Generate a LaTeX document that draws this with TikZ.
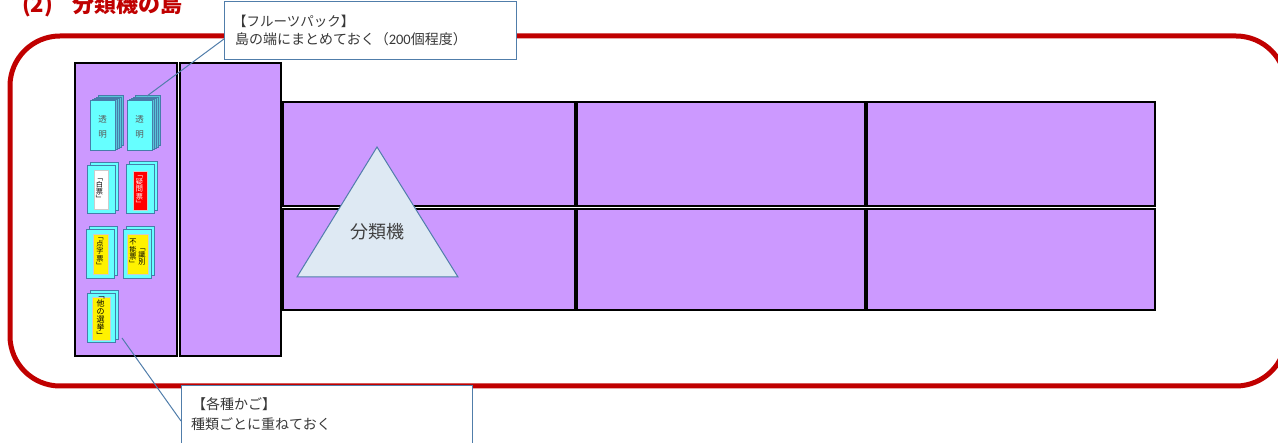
\documentclass[tikz,border=0pt]{standalone}
\usepackage{fontspec}
\setmainfont{Noto Sans CJK JP}
\newfontfamily\lat{Carlito}
\definecolor{cardedge}{RGB}{70,125,170}
\definecolor{cardfill}{RGB}{102,255,255}
\definecolor{calledge}{RGB}{80,125,170}
\definecolor{rd}{RGB}{192,0,0}
\definecolor{tri}{RGB}{222,233,243}
\definecolor{isl}{RGB}{204,153,255}
\tikzset{
 x=1pt,y=-1pt,
 island/.style={draw=black,line width=2pt,fill=isl},
 card/.style={draw=cardedge,line width=1pt,fill=cardfill},
 backcard/.style={draw=cardedge,line width=1pt,fill=cardfill!55!cardedge},
 lab/.style={inner sep=0pt,align=center,font=\fontsize{7.2}{7.2}\selectfont},
 clab/.style={inner sep=0pt,align=center,text=black!65,font=\fontsize{8.5}{9}\selectfont},
 callout/.style={draw=calledge,line width=1pt,fill=white,inner sep=0pt},
 leader/.style={draw=calledge,line width=1pt},
 ctext/.style={anchor=west,inner sep=0pt,text=black!78,font=\fontsize{14}{16}\selectfont},
}
\newcommand{\stackcards}[9]{%
 \draw[card] (#1+3,#2-3) rectangle (#1+#3+3,#2+#4-3);
 \draw[card] (#1,#2) rectangle (#1+#3,#2+#4);
 \fill[#5,draw=black!20,line width=.5pt] (#6,#7) rectangle (#8,#9);
}
\begin{document}
\begin{tikzpicture}
\useasboundingbox (0,0) rectangle (1278,443);
\clip (0,0) rectangle (1278,443);
\node[anchor=west,inner sep=0pt,text=rd,font=\fontsize{22}{24}\selectfont\bfseries] (title) at (22,5) {(2)\hspace{19pt}分類機の島};
\draw[rd,line width=5pt,rounded corners=50pt] (10,36) rectangle (1286,386);
% islands
\draw[island] (75,63.5) rectangle (176.5,356.5);
\draw[island] (180,63.5) rectangle (281,356.5);
\foreach \xa/\xb/\ya/\yb in {283/575/102/206,577/865/102/206,867/1155/102/206,283/575/209/310,577/865/209/310,867/1155/209/310}{
 \draw[island] (\xa,\ya) rectangle (\xb,\yb);
}
% triangle
\draw[draw=calledge,line width=1pt,fill=tri] (377,147) -- (458,277) -- (297,277) -- cycle;
\node[inner sep=0pt,text=black!75,font=\fontsize{18}{20}\selectfont] (tl) at (377.5,232) {分類機};
% transparent stacks
\foreach \xx in {90,127}{
 \foreach \d in {4,3,2,1}{
  \draw[backcard] (\xx+\d*2,101-\d*1.25) rectangle ++(25,50);
 }
 \draw[card] (\xx,101) rectangle (\xx+25,151);
 \node[clab] at (\xx+12.5,119) {透};
 \node[clab] at (\xx+12.5,134) {明};
}
% stacks with labels
\stackcards{87}{166}{28}{48}{white}{94}{170}{108}{209}
\node[lab,text=black] (k1) at (99.5,190) {﹁\\白\\票\\﹂};
\stackcards{126}{165}{28}{49}{red}{133}{171}{147}{210}
\node[lab,text=white] (k2) at (139.5,191) {﹁\\疑\\問\\票\\﹂};
\stackcards{86}{230}{28}{49}{yellow}{93}{234}{108}{274}
\node[lab,text=black] (k3) at (100,253) {﹁\\点\\字\\票\\﹂};
\stackcards{123}{230}{28}{49}{yellow}{127}{234}{148}{274}
\node[lab,text=black] (k4a) at (142,257) {﹁\\識\\別};
\node[lab,text=black] (k4b) at (133,253) {不\\能\\票\\﹂};
\stackcards{87}{294}{28}{49}{yellow}{92}{297}{110}{340}
\node[lab,text=black,font=\fontsize{8}{8}\selectfont] (k5) at (100.5,318) {﹁\\他\\の\\選\\挙\\﹂};
% callouts
\coordinate (ft) at (147,96);
\coordinate (bt) at (122,338);
\coordinate (c1p) at (224,39);
\coordinate (c2p) at (181,421);
\draw[leader] (ft) -- (c1p);
\node[callout,minimum width=292pt,minimum height=58pt] (c1) at (370.5,31) {};
\node[ctext,font=\fontsize{13.5}{16}\selectfont] (c1a) at (233,21) {【フルーツパック】};
\node[ctext] (c1b) at (235,39.5) {島の端にまとめておく（{\lat\fontsize{14.5}{16}\selectfont 200}個程度）};
\draw[leader] (bt) -- (c2p);
\node[callout,minimum width=291pt,minimum height=80pt] (c2) at (327,426) {};
\node[ctext] (c2a) at (192,404) {【各種かご】};
\node[ctext] (c2b) at (191,424) {種類ごとに重ねておく};
\end{tikzpicture}
\end{document}
